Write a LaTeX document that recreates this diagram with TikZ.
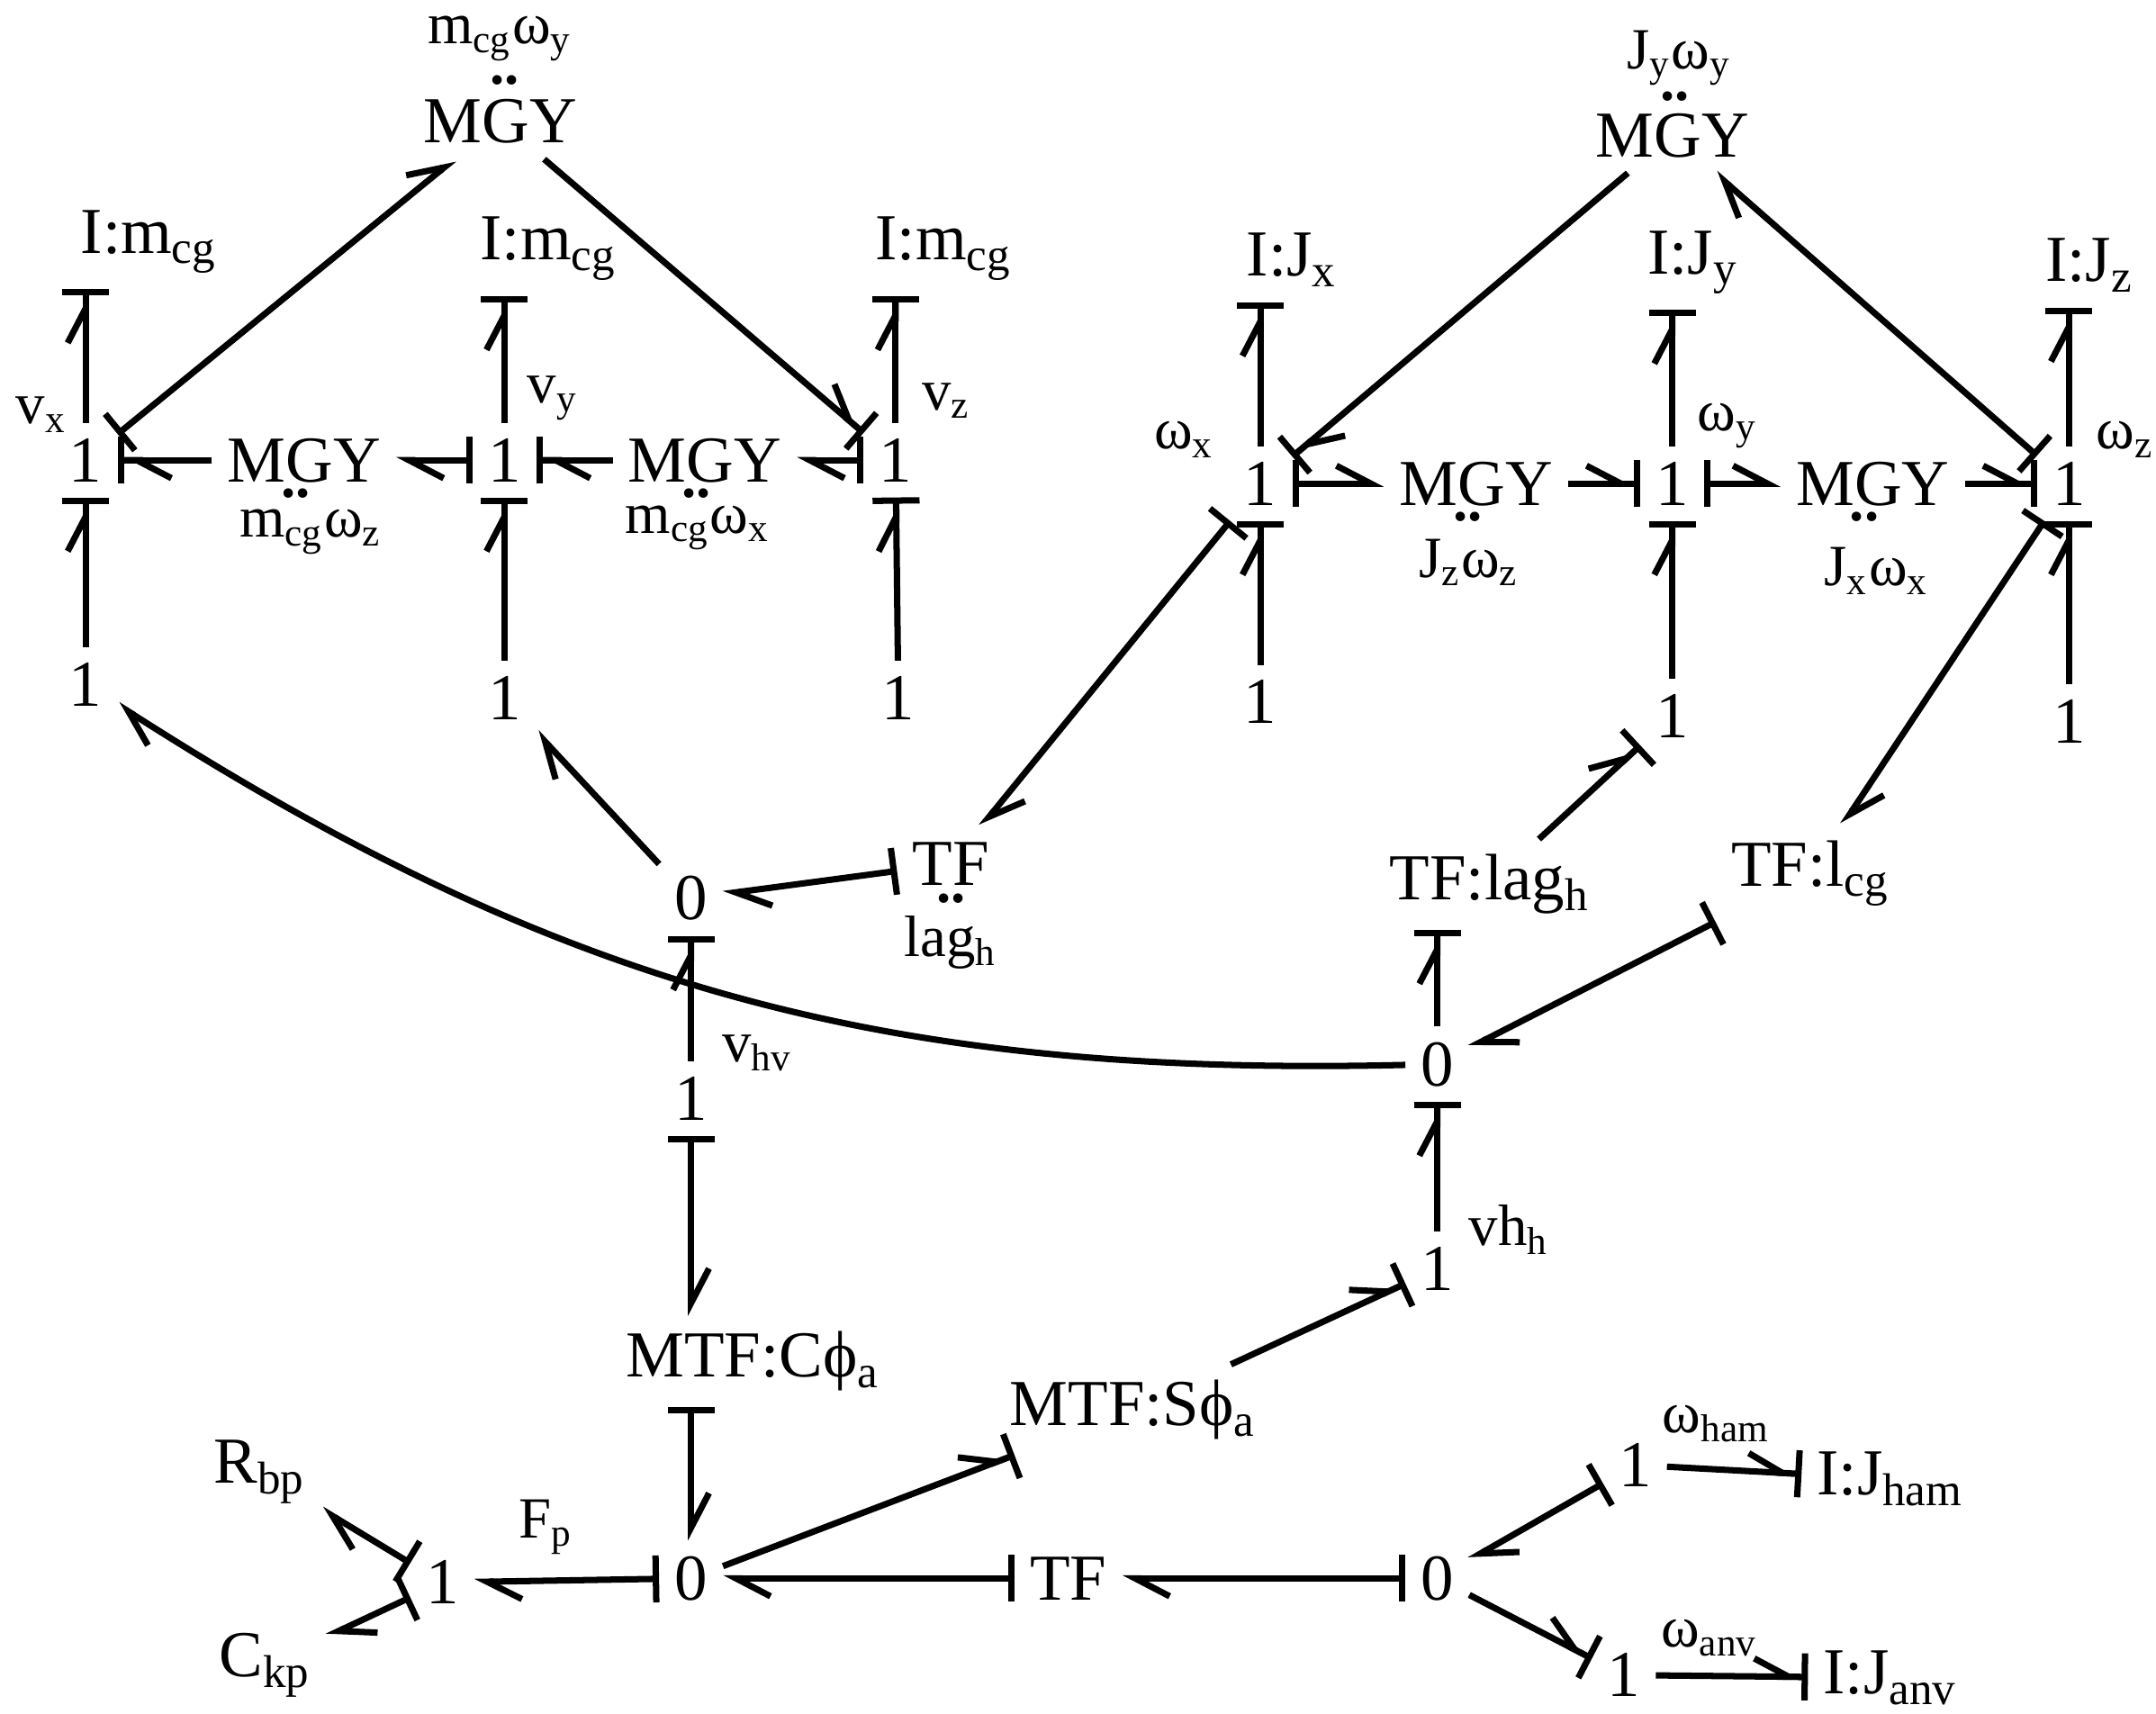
\documentclass[tikz,border=0pt]{standalone}
\usepackage{fontspec}
\setmainfont{Liberation Serif}
\usetikzlibrary{positioning, arrows.meta, calc}

\begin{document}
\begin{tikzpicture}[
    x=0.01cm, y=-0.01cm, % pixel-like grid, y downwards
    el/.style={font=\fontsize{13.5}{15}\selectfont, inner sep=3pt},
    lbl/.style={font=\fontsize{12}{14}\selectfont, inner sep=1pt},
    dots/.style={font=\fontsize{12}{12}\selectfont\bfseries, inner sep=0pt},
    bond/.style={line width=1.3pt, -{Straight Barb[left, length=2.5mm, width=2.6mm]}},
    sbond/.style={line width=1.3pt, -{Straight Barb[left, length=2.5mm, width=2.6mm] Bar[width=3.4mm]}},
    fbond/.style={line width=1.3pt, {Bar[width=3.4mm]}-{Straight Barb[left, length=2.5mm, width=2.6mm]}}
]
\useasboundingbox (0,0) rectangle (1560,1240);

% translational part
\node (mgy_t1) [el] at (362,88) {MGY};
\node (mgy_t1_lbl) [lbl] at (362,28) {m\textsubscript{cg}ω\textsubscript{y}};
\node [dots] at (365,58) {..};
\node (i_vx) [el] at (108,175) {I:m\textsubscript{cg}};
\node (i_vy) [el] at (397,180) {I:m\textsubscript{cg}};
\node (i_vz) [el] at (683,180) {I:m\textsubscript{cg}};
\node (one_vx) [el] at (62,333) {1};
\node (one_vy) [el] at (365,333) {1};
\node (one_vz) [el] at (648,333) {1};
\node [lbl] at (30,300) {v\textsubscript{x}};
\node [lbl] at (400,288) {v\textsubscript{y}};
\node [lbl] at (685,290) {v\textsubscript{z}};
\node (mgy_vz) [el] at (220,333) {MGY};
\node [dots] at (214,357) {..};
\node [lbl] at (225,385) {m\textsubscript{cg}ω\textsubscript{z}};
\node (mgy_vx) [el] at (510,333) {MGY};
\node [dots] at (504,357) {..};
\node [lbl] at (505,382) {m\textsubscript{cg}ω\textsubscript{x}};
\node (src_vx) [el] at (62,495) {1};
\node (src_vy) [el] at (365,505) {1};
\node (src_vz) [el] at (650,505) {1};

\draw[sbond] (one_vx) -- (one_vx |- i_vx.south);
\draw[sbond] (one_vy) -- (one_vy |- i_vy.south);
\draw[sbond] (one_vz) -- (one_vz |- i_vz.south);
\draw[fbond] (one_vx) -- (mgy_t1);
\draw[sbond] (mgy_t1) -- (one_vz);
\draw[sbond] (mgy_vz) -- (one_vx);
\draw[fbond] (one_vy) -- (mgy_vz);
\draw[sbond] (mgy_vx) -- (one_vy);
\draw[fbond] (one_vz) -- (mgy_vx);
\draw[sbond] (src_vx) -- (one_vx);
\draw[sbond] (src_vy) -- (one_vy);
\draw[sbond] (src_vz) -- (one_vz);

% rotational part
\node (mgy_t2) [el] at (1210,98) {MGY};
\node [lbl] at (1215,42) {J\textsubscript{y}ω\textsubscript{y}};
\node [dots] at (1212,70) {..};
\node (i_wx) [el] at (935,188) {I:J\textsubscript{x}};
\node (i_wy) [el] at (1225,190) {I:J\textsubscript{y}};
\node (i_wz) [el] at (1512,192) {I:J\textsubscript{z}};
\node (one_wx) [el] at (912,350) {1};
\node (one_wy) [el] at (1210,350) {1};
\node (one_wz) [el] at (1497,350) {1};
\node [lbl] at (857,318) {ω\textsubscript{x}};
\node [lbl] at (1250,308) {ω\textsubscript{y}};
\node [lbl] at (1538,318) {ω\textsubscript{z}};
\node (mgy_wz) [el] at (1068,350) {MGY};
\node [dots] at (1062,374) {..};
\node [lbl] at (1063,407) {J\textsubscript{z}ω\textsubscript{z}};
\node (mgy_wx) [el] at (1355,350) {MGY};
\node [dots] at (1349,374) {..};
\node [lbl] at (1358,413) {J\textsubscript{x}ω\textsubscript{x}};
\node (src_wx) [el] at (912,508) {1};
\node (src_wy) [el] at (1210,518) {1};
\node (src_wz) [el] at (1497,522) {1};

\draw[sbond] (one_wx) -- (one_wx |- i_wx.south);
\draw[sbond] (one_wy) -- (one_wy |- i_wy.south);
\draw[sbond] (one_wz) -- (one_wz |- i_wz.south);
\draw[sbond] (mgy_t2) -- (one_wx);
\draw[fbond] (one_wz) -- (mgy_t2);
\draw[fbond] (one_wx) -- (mgy_wz);
\draw[sbond] (mgy_wz) -- (one_wy);
\draw[fbond] (one_wy) -- (mgy_wx);
\draw[sbond] (mgy_wx) -- (one_wz);
\draw[sbond] (src_wx) -- (one_wx);
\draw[sbond] (src_wy) -- (one_wy);
\draw[sbond] (src_wz) -- (one_wz);

% hull junctions
\node (zero_hv) [el] at (500,650) {0};
\node (tf_lag1) [el] at (688,625) {TF};
\node [dots] at (688,650) {..};
\node [lbl] at (688,682) {lag\textsubscript{h}};
\node (tf_lag2) [el] at (1078,640) {TF:lag\textsubscript{h}};
\node (tf_lcg) [el] at (1310,632) {TF:l\textsubscript{cg}};
\node (zero_h) [el] at (1040,770) {0};
\node (one_hv) [el] at (500,795) {1};
\node [lbl] at (548,762) {v\textsubscript{hv}};
\node (one_h) [el] at (1040,918) {1};
\node [lbl] at (1092,890) {vh\textsubscript{h}};
\node (mtf_c) [el] at (545,985) {MTF:Cϕ\textsubscript{a}};
\node (mtf_s) [el] at (820,1020) {MTF:Sϕ\textsubscript{a}};

\draw[bond] (zero_hv) -- (src_vy);
\draw[bond] (zero_h) to[bend left=17] (src_vx);
\draw[fbond] (one_wx) -- (tf_lag1);
\draw[fbond] (tf_lag1) -- (zero_hv);
\draw[sbond] (one_hv) -- (zero_hv);
\draw[fbond] (one_hv) -- (one_hv |- mtf_c.north);
\draw[sbond] (one_h) -- (zero_h);
\draw[sbond] (zero_h) -- (zero_h |- tf_lag2.south);
\draw[sbond] (tf_lag2) -- (src_wy);
\draw[fbond] (tf_lcg) -- (zero_h);
\draw[fbond] (one_wz) -- (tf_lcg);
\draw[sbond] (mtf_s) -- (one_h);

% bottom row
\node (one_p) [el] at (320,1145) {1};
\node [lbl] at (395,1105) {F\textsubscript{p}};
\node (r_bp) [el] at (188,1065) {R\textsubscript{bp}};
\node (c_kp) [el] at (192,1205) {C\textsubscript{kp}};
\node (zero_p) [el] at (500,1142) {0};
\node (tf_b) [el] at (773,1142) {TF};
\node (zero_j) [el] at (1040,1142) {0};
\node (one_ham) [el] at (1183,1060) {1};
\node [lbl] at (1242,1030) {ω\textsubscript{ham}};
\node (i_ham) [el] at (1368,1070) {I:J\textsubscript{ham}};
\node (one_anv) [el] at (1175,1212) {1};
\node [lbl] at (1237,1185) {ω\textsubscript{anv}};
\node (i_anv) [el] at (1368,1214) {I:J\textsubscript{anv}};

\draw[fbond] (one_p) -- (r_bp);
\draw[fbond] (one_p) -- (c_kp);
\draw[fbond] (zero_p) -- (one_p);
\draw[fbond] (mtf_c.south -| zero_p) -- (zero_p);
\draw[sbond] (zero_p) -- (mtf_s);
\draw[fbond] (tf_b) -- (zero_p);
\draw[fbond] (zero_j) -- (tf_b);
\draw[fbond] (one_ham) -- (zero_j);
\draw[sbond] (zero_j) -- (one_anv);
\draw[sbond] (one_ham) -- (i_ham);
\draw[sbond] (one_anv) -- (i_anv);

\end{tikzpicture}
\end{document}
